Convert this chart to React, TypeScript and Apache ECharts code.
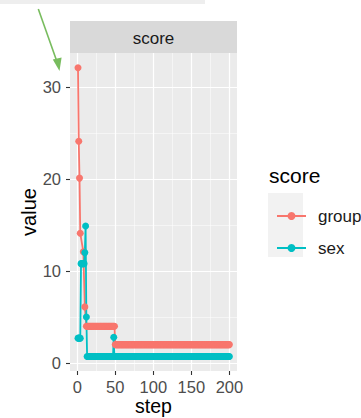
import React, { useEffect, useRef } from "react";
import * as echarts from "echarts";

// Runs: [first step, last step, value]
const groupRuns: [number, number, number][] = [
  [1, 1, 32.1],
  [2, 2, 24.1],
  [3, 3, 20.1],
  [4, 4, 14.1],
  [8, 8, 12.1],
  [10, 10, 6.1],
  [12, 49, 4.0],
  [50, 200, 2.0],
];
const sexRuns: [number, number, number][] = [
  [1, 4, 2.7],
  [5, 9, 10.8],
  [10, 10, 12.0],
  [11, 11, 14.9],
  [12, 12, 5.0],
  [13, 47, 0.7],
  [48, 48, 2.8],
  [49, 200, 0.7],
];
const seriesNames = ["group", "sex"];
const seriesColors = ["#F8766D", "#00BFC4"];
const xMajorTicks = [0, 50, 100, 150, 200];
const xMinorTicks = [25, 75, 125, 175];
const yMajorTicks = [0, 10, 20, 30];
const yMinorTicks = [5, 15, 25];
const stripLabel = "score";
const legendTitle = "score";
const xTitle = "step";
const yTitle = "value";

function expand(runs: [number, number, number][]) {
  const out: [number, number][] = [];
  for (const [a, b, v] of runs) {
    for (let s = a; s <= b; s++) out.push([s, v]);
  }
  return out;
}

const FONT = "Liberation Sans, Arial, Helvetica, sans-serif";

export default function App() {
  const ref = useRef<HTMLDivElement>(null);
  useEffect(() => {
    if (!ref.current) return;
    const chart = echarts.init(ref.current, undefined, { renderer: "svg" });
    const X0 = -9.5, X1 = 210, Y0 = -0.87, Y1 = 33.7;
    const gridL = 70, gridT = 53, gridW = 167, gridH = 318;
    const tickStyle = { show: true, inside: false, length: 4, lineStyle: { color: "#333333", width: 1.1 } };
    const majorAxisCommon = {
      axisLine: { show: false, onZero: false },
      splitLine: { show: true, lineStyle: { color: "#FFFFFF", width: 1.2 } },
    };
    const minorAxisCommon = {
      axisLine: { show: false, onZero: false },
      axisLabel: { show: false },
      splitLine: { show: true, lineStyle: { color: "#FFFFFF", width: 0.5 } },
    };
    chart.setOption({
      animation: false,
      textStyle: { fontFamily: FONT },
      grid: {
        left: gridL, top: gridT, width: gridW, height: gridH,
        show: true, backgroundColor: "#EBEBEB", borderWidth: 0,
        containLabel: false,
        outerBoundsMode: "none",
      },
      xAxis: [
        {
          type: "value", min: X0, max: X1, position: "bottom",
          ...majorAxisCommon,
          axisTick: { ...tickStyle, customValues: xMajorTicks },
          axisLabel: { customValues: xMajorTicks, color: "#4D4D4D", fontSize: 16.5, margin: 7, fontFamily: FONT },
          name: xTitle, nameLocation: "middle", nameGap: 25, nameMoveOverlap: false,
          nameTextStyle: { color: "#000000", fontSize: 19.5, fontFamily: FONT, verticalAlign: "top" },
        },
        {
          type: "value", min: X0, max: X1, position: "top",
          ...minorAxisCommon,
          axisTick: { show: false, customValues: xMinorTicks },
        },
      ],
      yAxis: [
        {
          type: "value", min: Y0, max: Y1, position: "left",
          ...majorAxisCommon,
          axisTick: { ...tickStyle, customValues: yMajorTicks },
          axisLabel: { customValues: yMajorTicks, color: "#4D4D4D", fontSize: 16.5, margin: 9, fontFamily: FONT },
          name: yTitle, nameLocation: "middle", nameGap: 30,
          nameTextStyle: { color: "#000000", fontSize: 20, fontFamily: FONT },
        },
        {
          type: "value", min: Y0, max: Y1, position: "right",
          ...minorAxisCommon,
          axisTick: { show: false, customValues: yMinorTicks },
        },
      ],
      legend: {
        data: seriesNames,
        orient: "vertical",
        left: 271,
        top: 202,
        itemWidth: 29,
        itemHeight: 10,
        itemGap: 14,
        textStyle: { fontSize: 17, lineHeight: 18, color: "#1A1A1A", fontFamily: FONT, padding: [0, 0, 0, 7] },
      },
      graphic: [
        { type: "rect", shape: { x: 0, y: 0, width: 205, height: 4 }, style: { fill: "#EEEEEE" }, z: -10 },
        { type: "rect", shape: { x: gridL, y: 21, width: gridW, height: 32 }, style: { fill: "#D9D9D9" }, z: -10 },
        {
          type: "text", x: gridL + gridW / 2, y: 38,
          style: { text: stripLabel, fill: "#1A1A1A", fontSize: 17, fontFamily: FONT, align: "center", verticalAlign: "middle" },
        },
        { type: "rect", shape: { x: 268, y: 193, width: 35, height: 64 }, style: { fill: "#F2F2F2" }, z: -10 },
        {
          type: "text", x: 269, y: 175,
          style: { text: legendTitle, fill: "#000000", fontSize: 21, fontFamily: FONT, align: "left", verticalAlign: "middle" },
        },
        {
          type: "line", shape: { x1: 38.3, y1: 9, x2: 58.5, y2: 66 },
          style: { stroke: "#78BC5E", lineWidth: 1.6 },
        },
        {
          type: "polygon", shape: { points: [[59.5, 71], [52.8, 59.5], [61.6, 57.5]] },
          style: { fill: "#78BC5E" },
        },
      ],
      series: [groupRuns, sexRuns].map((runs, i) => ({
        type: "line",
        name: seriesNames[i],
        data: expand(runs),
        xAxisIndex: 0,
        yAxisIndex: 0,
        symbol: "circle",
        symbolSize: 7,
        showSymbol: true,
        lineStyle: { color: seriesColors[i], width: 1.8 },
        itemStyle: { color: seriesColors[i] },
      })),
    });
    return () => chart.dispose();
  }, []);
  return (
    <div
      ref={ref}
      style={{ position: "fixed", left: 0, top: 0, width: 361, height: 418, background: "#FFFFFF" }}
    />
  );
}
